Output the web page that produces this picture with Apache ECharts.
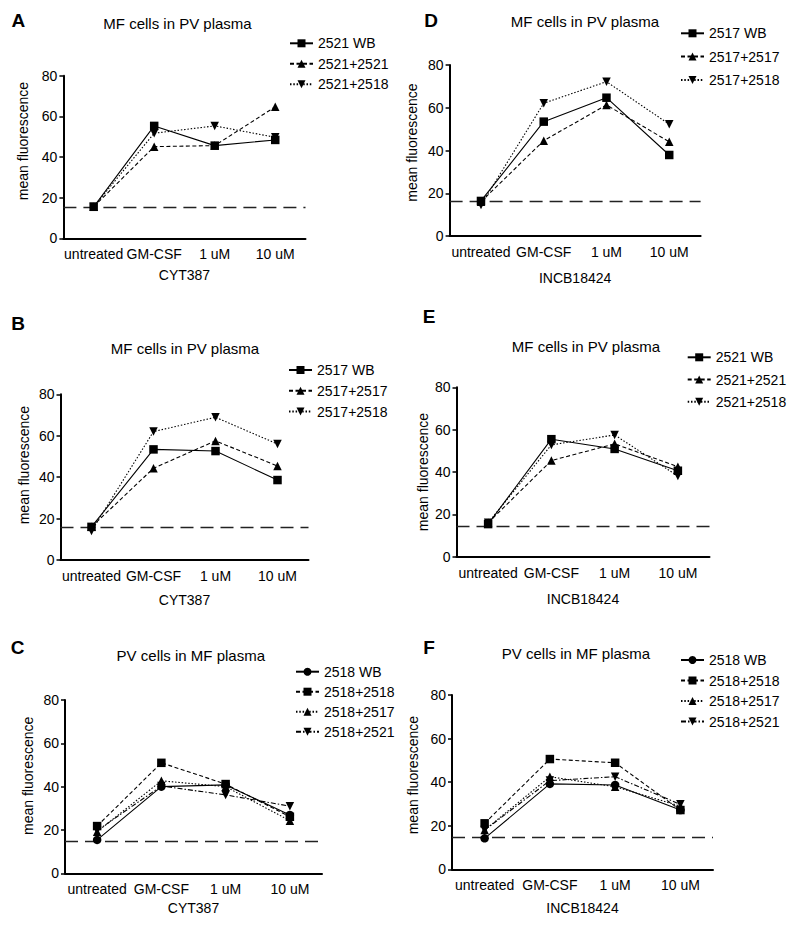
<!DOCTYPE html>
<html><head><meta charset="utf-8">
<script src="https://cdn.jsdelivr.net/npm/echarts@6/dist/echarts.min.js"></script>
<style>html,body{margin:0;padding:0;background:#fff}#c{width:800px;height:925px}</style>
</head><body><div id="c"></div>
<script>
// ---------- DATA ----------
const categories = ['untreated', 'GM-CSF', '1 uM', '10 uM'];
const yTicks = [0, 20, 40, 60, 80];

// Panel A (CYT387, MF cells in PV plasma)
const A_names = ['2521 WB', '2521+2521', '2521+2518'];
const A_2521WB   = [15.5, 55.3, 45.6, 48.4];
const A_2521_2521 = [15.5, 45.1, 45.6, 64.7];
const A_2521_2518 = [15.5, 51.7, 55.3, 49.7];
const A_baseline = 15.5;

// Panel B (CYT387, MF cells in PV plasma)
const B_names = ['2517 WB', '2517+2517', '2517+2518'];
const B_2517WB   = [16.0, 53.4, 52.6, 38.6];
const B_2517_2517 = [16.0, 44.3, 57.5, 45.4];
const B_2517_2518 = [14.0, 62.0, 68.9, 56.0];
const B_baseline = 15.9;

// Panel C (CYT387, PV cells in MF plasma)
const C_names = ['2518 WB', '2518+2518', '2518+2517', '2518+2521'];
const C_2518WB   = [15.4, 40.0, 40.8, 26.9];
const C_2518_2518 = [21.8, 51.0, 41.2, 26.1];
const C_2518_2517 = [19.2, 42.7, 40.0, 24.3];
const C_2518_2521 = [19.7, 40.3, 36.2, 31.0];
const C_baseline = 14.9;

// Panel D (INCB18424, MF cells in PV plasma)
const D_names = ['2517 WB', '2517+2517', '2517+2518'];
const D_2517WB   = [16.4, 53.5, 64.7, 37.9];
const D_2517_2517 = [16.0, 44.6, 61.3, 44.1];
const D_2517_2518 = [14.5, 62.1, 72.2, 52.3];
const D_baseline = 16.4;

// Panel E (INCB18424, MF cells in PV plasma)
const E_names = ['2521 WB', '2521+2521', '2521+2518'];
const E_2521WB   = [15.4, 55.5, 50.9, 40.6];
const E_2521_2521 = [16.0, 45.4, 53.3, 42.5];
const E_2521_2518 = [16.0, 52.8, 57.5, 38.1];
const E_baseline = 14.6;

// Panel F (INCB18424, PV cells in MF plasma)
const F_names = ['2518 WB', '2518+2518', '2518+2517', '2518+2521'];
const F_2518WB   = [14.2, 39.2, 38.7, 27.2];
const F_2518_2518 = [21.1, 50.6, 48.9, 27.2];
const F_2518_2517 = [18.0, 42.5, 37.9, 29.0];
const F_2518_2521 = [18.0, 40.7, 42.5, 29.8];
const F_baseline = 14.7;

const panelLetters = ['A', 'B', 'C', 'D', 'E', 'F'];
const panelTitles = ['MF cells in PV plasma', 'MF cells in PV plasma', 'PV cells in MF plasma',
                     'MF cells in PV plasma', 'MF cells in PV plasma', 'PV cells in MF plasma'];
const xAxisNames = ['CYT387', 'CYT387', 'CYT387', 'INCB18424', 'INCB18424', 'INCB18424'];
const yAxisName = 'mean fluorescence';

// ---------- LAYOUT / STYLE ----------
const FONT = '"Liberation Sans", Arial, Helvetica, sans-serif';
const TXT = '#000';
const SYM_DOWN = 'path://M0,0 L10,0 L5,10 Z';
const styles3 = [
  {symbol: 'rect', size: 8.5, dash: 'solid'},
  {symbol: 'triangle', size: 8.5, dash: [4, 2.5]},
  {symbol: SYM_DOWN, size: 8.5, dash: [1.5, 1.8]}
];
const styles4 = [
  {symbol: 'circle', size: 8.5, dash: 'solid'},
  {symbol: 'rect', size: 8.5, dash: [4, 2.5]},
  {symbol: 'triangle', size: 8.5, dash: [1.5, 1.8]},
  {symbol: SYM_DOWN, size: 8.5, dash: [5, 2, 1.5, 2]}
];

const panels = [
  {names: A_names, data: [A_2521WB, A_2521_2521, A_2521_2518], base: A_baseline, st: styles3,
   grid: {left: 63.4, top: 75.7, width: 242.1, height: 162.6}, titlePos: [177.5, 23.3], letterPos: [18.3, 20],
   legend: {left: 289, top: 36.3, gap: 6.5}, yGap: 33, yShift: 16, xGap: 30},
  {names: B_names, data: [B_2517WB, B_2517_2517, B_2517_2518], base: B_baseline, st: styles3,
   grid: {left: 60.5, top: 394.3, width: 248, height: 165.7}, titlePos: [185, 348.3], letterPos: [18, 323.3],
   legend: {left: 288, top: 363, gap: 6.8}, yGap: 29.5, yShift: 12, xGap: 33},
  {names: C_names, data: [C_2518WB, C_2518_2518, C_2518_2517, C_2518_2521], base: C_baseline, st: styles4,
   grid: {left: 65, top: 700, width: 257, height: 173.3}, titlePos: [190.8, 655], letterPos: [17.5, 647.5],
   legend: {left: 295, top: 664.7, gap: 6}, yGap: 29.7, yShift: 10.8, xGap: 28},
  {names: D_names, data: [D_2517WB, D_2517_2517, D_2517_2518], base: D_baseline, st: styles3,
   grid: {left: 449.6, top: 65, width: 251, height: 171}, titlePos: [585, 21.7], letterPos: [431, 20],
   legend: {left: 680, top: 26.3, gap: 9.3}, yGap: 31, yShift: 8, xGap: 35},
  {names: E_names, data: [E_2521WB, E_2521_2521, E_2521_2518], base: E_baseline, st: styles3,
   grid: {left: 456.5, top: 387.3, width: 253, height: 169.4}, titlePos: [586, 346.7], letterPos: [429, 316.7],
   legend: {left: 686.7, top: 350.3, gap: 8.2}, yGap: 27, yShift: 0, xGap: 35},
  {names: F_names, data: [F_2518WB, F_2518_2518, F_2518_2517, F_2518_2521], base: F_baseline, st: styles4,
   grid: {left: 452, top: 695, width: 261, height: 174.3}, titlePos: [576, 653.3], letterPos: [429, 647.5],
   legend: {left: 680, top: 653, gap: 6.5}, yGap: 31.7, yShift: 7, xGap: 32}
];

const grid = [], xAxis = [], yAxis = [], series = [], legend = [], graphic = [];
panels.forEach((p, i) => {
  grid.push(Object.assign({containLabel: false}, p.grid));
  xAxis.push({
    type: 'category', gridIndex: i, data: categories, boundaryGap: true,
    name: xAxisNames[i], nameLocation: 'middle', nameGap: p.xGap,
    nameTextStyle: {fontSize: 14, color: TXT, fontFamily: FONT},
    axisLine: {lineStyle: {color: '#000', width: 2}},
    axisTick: {alignWithLabel: true, length: 5, lineStyle: {color: '#000', width: 1.5}},
    axisLabel: {interval: 0, margin: 9, fontSize: 14, color: TXT, fontFamily: FONT},
    splitLine: {show: false}
  });
  yAxis.push({
    type: 'value', gridIndex: i, min: yTicks[0], max: yTicks[yTicks.length - 1],
    interval: yTicks[1] - yTicks[0],
    name: yAxisName, nameLocation: 'middle', nameRotate: 90, nameGap: p.yGap,
    nameTextStyle: {fontSize: 14, color: TXT, fontFamily: FONT,
      padding: p.yShift >= 0 ? [0, 0, 0, 2 * p.yShift] : [0, -2 * p.yShift, 0, 0]},
    axisLine: {show: true, lineStyle: {color: '#000', width: 2}},
    axisTick: {show: true, length: 4, lineStyle: {color: '#000', width: 1.5}},
    axisLabel: {margin: 6, fontSize: 14, color: TXT, fontFamily: FONT},
    splitLine: {show: false}
  });
  p.names.forEach((nm, k) => {
    const st = p.st[k];
    const s = {
      type: 'line', name: nm, xAxisIndex: i, yAxisIndex: i, data: p.data[k],
      symbol: st.symbol, symbolSize: st.size, showAllSymbol: true,
      lineStyle: {color: '#000', width: 1.1, type: st.dash},
      itemStyle: {color: '#000'},
      emphasis: {disabled: true}, animation: false, z: 3 + (p.names.length - k)
    };
    if (k === 0) {
      s.markLine = {
        silent: true, symbol: ['none', 'none'], label: {show: false},
        lineStyle: {color: '#222', width: 1.4, type: [13, 7]},
        data: [{yAxis: p.base}], animation: false
      };
    }
    series.push(s);
  });
  legend.push({
    orient: 'vertical', left: p.legend.left, top: p.legend.top, itemGap: p.legend.gap,
    itemWidth: 23, itemHeight: 10, selectedMode: false, padding: 0,
    data: p.names,
    textStyle: {fontSize: 14, color: TXT, fontFamily: FONT}
  });
  graphic.push({
    type: 'text', x: p.titlePos[0], y: p.titlePos[1],
    style: {text: panelTitles[i], fontSize: 15, fontFamily: FONT, fill: TXT,
            textAlign: 'center', textVerticalAlign: 'middle'}
  });
  graphic.push({
    type: 'text', x: p.letterPos[0], y: p.letterPos[1],
    style: {text: panelLetters[i], fontSize: 19, fontWeight: 'bold', fontFamily: FONT, fill: '#000',
            textAlign: 'center', textVerticalAlign: 'middle'}
  });
});

const chart = echarts.init(document.getElementById('c'), null, {renderer: 'svg'});
chart.setOption({
  animation: false,
  backgroundColor: '#fff',
  grid, xAxis, yAxis, series, legend, graphic
});
</script>
</body></html>
